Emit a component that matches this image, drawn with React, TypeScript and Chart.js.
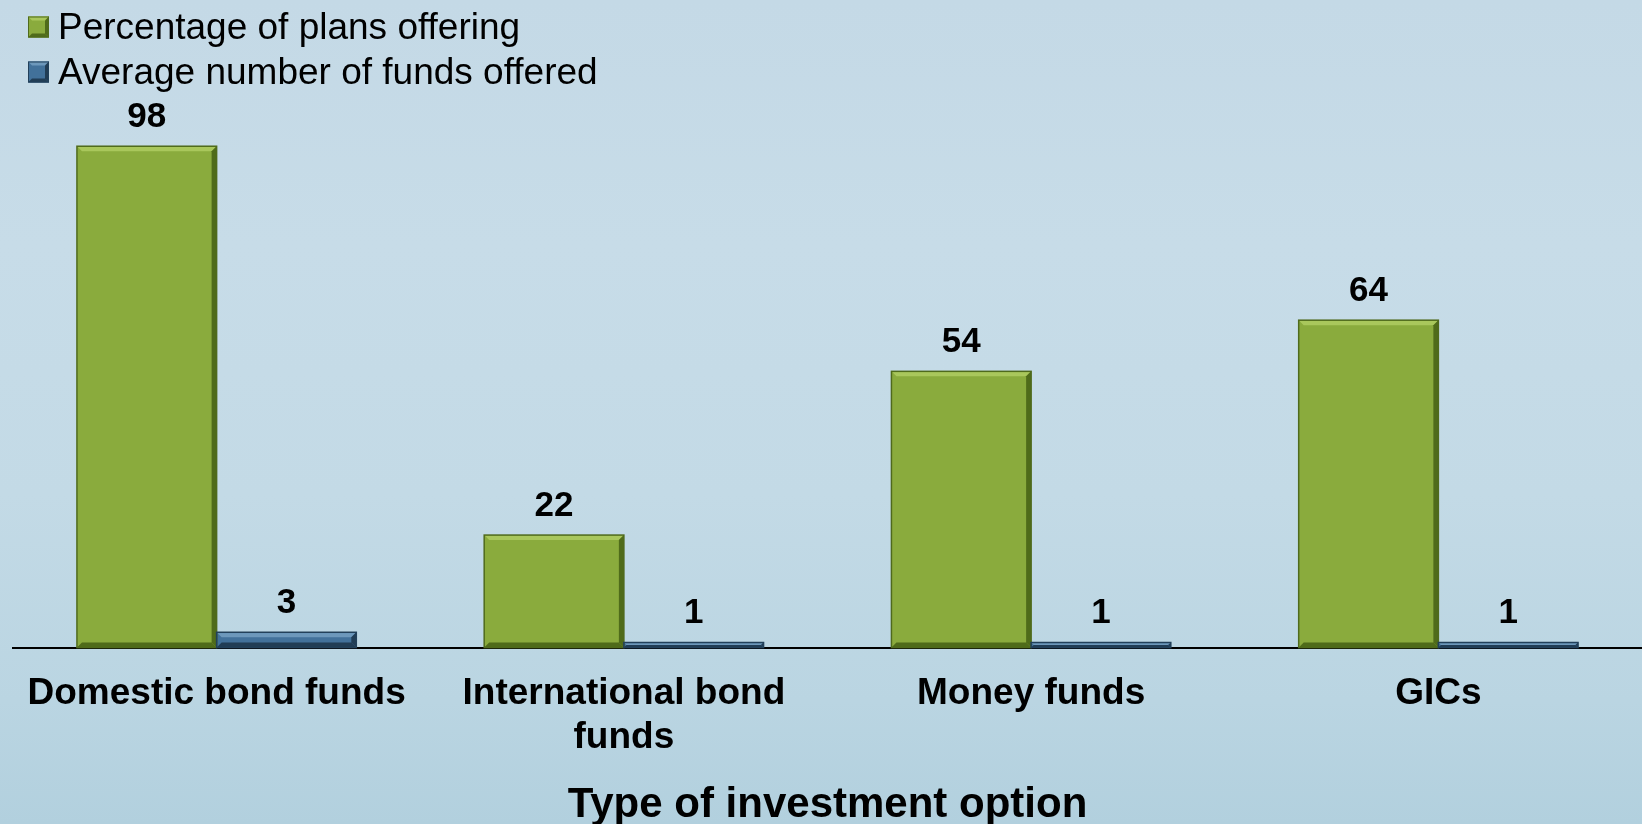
import React, { useEffect, useRef } from "react";
import { Chart, registerables } from "chart.js";

Chart.register(...registerables);

const categories: (string | string[])[] = [
  "Domestic bond funds",
  ["International bond", "funds"],
  "Money funds",
  "GICs",
];
const seriesNames = ["Percentage of plans offering", "Average number of funds offered"];
const pctPlansOffering = [98, 22, 54, 64];
const avgFundsOffered = [3, 1, 1, 1];
const axisTitle = "Type of investment option";

const FONT = "'Liberation Sans', Arial, Helvetica, sans-serif";

const fills = ["#8aab3d", "#42719a"];
const borders = ["#4f6a1c", "#22405a"];
const lights = ["#a9c75c", "#6d98bb"];
const darks = ["#4f6b1a", "#213d55"];

const bgPlugin = {
  id: "bg",
  beforeDraw(chart: any) {
    const { ctx, width, height } = chart;
    ctx.save();
    const g = ctx.createLinearGradient(0, 0, 0, height);
    g.addColorStop(0, "#c4d9e6");
    g.addColorStop(0.3, "#c7dce8");
    g.addColorStop(0.6, "#c3dae6");
    g.addColorStop(0.85, "#bad5e2");
    g.addColorStop(1, "#b2d0de");
    ctx.fillStyle = g;
    ctx.fillRect(0, 0, width, height);
    ctx.restore();
  },
};

function bevelRect(ctx: any, left: number, top: number, right: number, bottom: number, i: number, maxB = 5) {
  const h = bottom - top;
  const w = right - left;
  const b = Math.max(1, Math.min(maxB, h / 2, w / 2));
  ctx.fillStyle = lights[i];
  ctx.beginPath();
  ctx.moveTo(left, top);
  ctx.lineTo(right, top);
  ctx.lineTo(right - b, top + b);
  ctx.lineTo(left + b, top + b);
  ctx.closePath();
  ctx.fill();
  ctx.fillStyle = darks[i];
  ctx.beginPath();
  ctx.moveTo(right, top);
  ctx.lineTo(right, bottom);
  ctx.lineTo(right - b, bottom - b);
  ctx.lineTo(right - b, top + b);
  ctx.closePath();
  ctx.fill();
  ctx.beginPath();
  ctx.moveTo(left, bottom);
  ctx.lineTo(right, bottom);
  ctx.lineTo(right - b, bottom - b);
  ctx.lineTo(left + b, bottom - b);
  ctx.closePath();
  ctx.fill();
}

const barDecorPlugin = {
  id: "barDecor",
  afterDatasetsDraw(chart: any) {
    const { ctx } = chart;
    ctx.save();
    chart.data.datasets.forEach((ds: any, i: number) => {
      const meta = chart.getDatasetMeta(i);
      meta.data.forEach((el: any, j: number) => {
        const { x, y, base, width } = el.getProps(["x", "y", "base", "width"], true);
        const left = x - width / 2;
        const right = x + width / 2;
        const top = Math.min(y, base);
        const bottom = Math.max(y, base);
        bevelRect(ctx, left, top, right, bottom, i);
        ctx.strokeStyle = borders[i];
        ctx.lineWidth = 1.5;
        ctx.strokeRect(left, top, width, bottom - top);
        ctx.fillStyle = "#000";
        ctx.font = `bold 35px ${FONT}`;
        ctx.textAlign = "center";
        ctx.textBaseline = "middle";
        ctx.fillText(String(ds.data[j]), x, y - 29);
      });
    });
    ctx.restore();
  },
};

const legendPlugin = {
  id: "customLegend",
  afterDraw(chart: any) {
    const { ctx } = chart;
    ctx.save();
    const rows = [27, 72];
    chart.data.datasets.forEach((ds: any, i: number) => {
      const cy = rows[i];
      const bx = 28;
      const bs = 21;
      const by = cy - bs / 2;
      ctx.fillStyle = fills[i];
      ctx.fillRect(bx, by, bs, bs);
      bevelRect(ctx, bx, by, bx + bs, by + bs, i, 4);
      ctx.strokeStyle = borders[i];
      ctx.lineWidth = 1;
      ctx.strokeRect(bx + 0.5, by + 0.5, bs - 1, bs - 1);
      ctx.fillStyle = "#000";
      ctx.font = `37px ${FONT}`;
      ctx.textAlign = "left";
      ctx.textBaseline = "middle";
      ctx.fillText(ds.label, 58, cy + 2);
    });
    ctx.restore();
  },
};

export default function App() {
  const ref = useRef<HTMLCanvasElement | null>(null);
  useEffect(() => {
    if (!ref.current) return;
    const chart = new Chart(ref.current, {
      type: "bar",
      data: {
        labels: categories as any,
        datasets: [
          {
            label: seriesNames[0],
            data: pctPlansOffering,
            backgroundColor: fills[0],
            borderWidth: 0,
            barPercentage: 1,
            categoryPercentage: 0.686,
          },
          {
            label: seriesNames[1],
            data: avgFundsOffered,
            backgroundColor: fills[1],
            borderWidth: 0,
            barPercentage: 1,
            categoryPercentage: 0.686,
          },
        ],
      },
      options: {
        animation: false,
        responsive: false,
        devicePixelRatio: 1,
        layout: { padding: { left: 13, right: 0, top: 136, bottom: 0 } },
        plugins: { legend: { display: false }, tooltip: { enabled: false } },
        scales: {
          x: {
            grid: { display: false, drawTicks: false },
            border: { display: true, color: "#000", width: 2 },
            ticks: {
              color: "#000",
              font: { family: FONT, size: 37, weight: "bold", lineHeight: 1.17 },
              padding: 25,
              maxRotation: 0,
              minRotation: 0,
              autoSkip: false,
            },
            title: {
              display: true,
              text: axisTitle,
              color: "#000",
              font: { family: FONT, size: 42, weight: "bold", lineHeight: 0.9 },
              padding: { top: 2, bottom: 0 },
            },
          },
          y: { display: false, min: 0, max: 100 },
        },
      },
      plugins: [bgPlugin, barDecorPlugin, legendPlugin],
    });
    return () => chart.destroy();
  }, []);
  return (
    <div style={{ position: "absolute", left: 0, top: 0, width: 1642, height: 824 }}>
      <canvas ref={ref} width={1642} height={824} style={{ display: "block", width: 1642, height: 824 }} />
    </div>
  );
}
